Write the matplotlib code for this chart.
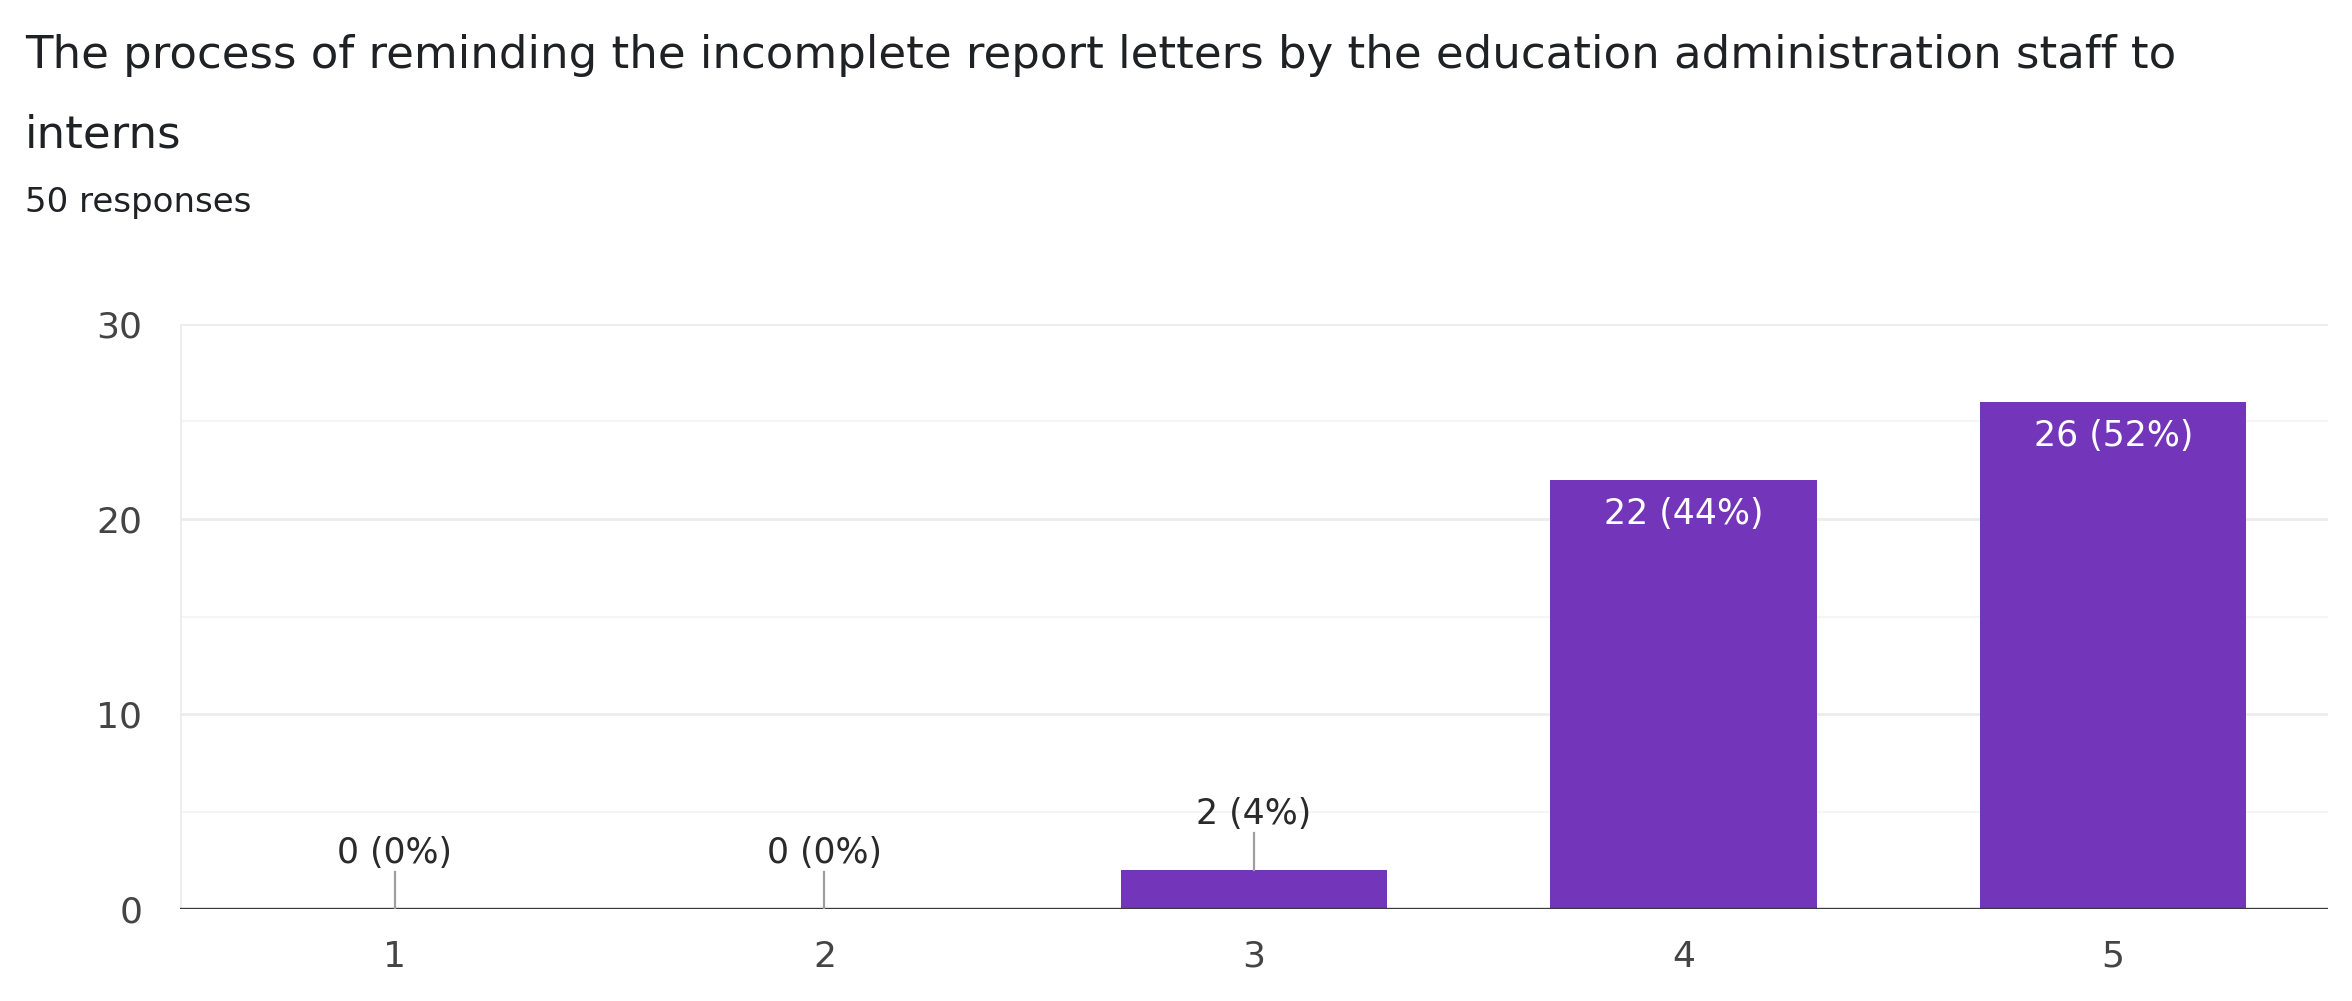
import matplotlib
matplotlib.use("Agg")
import matplotlib.pyplot as plt

categories = ["1", "2", "3", "4", "5"]
counts = [0, 0, 2, 22, 26]
total = 50
title_lines = ["The process of reminding the incomplete report letters by the education administration staff to",
               "interns"]
subtitle_text = "50 responses"
yticks = [0, 10, 20, 30]

plt.rcParams['font.family'] = ['DejaVu Sans']

W, H = 2352, 1001
fig = plt.figure(figsize=(W / 100, H / 100), dpi=100)
fig.patch.set_facecolor("white")

left, right = 180 / W, 2328 / W
bottom, top = 1 - 909 / H, 1 - 324 / H
ax = fig.add_axes([left, bottom, right - left, top - bottom])

bar_color = "#7335BA"
x = list(range(1, len(categories) + 1))
ax.set_xlim(0.5, len(categories) + 0.5)
ax.set_ylim(0, 30)

# grid
for g in [5, 15, 25]:
    ax.axhline(g, color="#f5f5f5", lw=1.5, zorder=0)
for g in [10, 20, 30]:
    ax.axhline(g, color="#ececec", lw=2, zorder=0)
ax.axvline(0.5, color="#ececec", lw=2, zorder=0)

ax.bar(x, counts, width=0.62, color=bar_color, zorder=2)
ax.axhline(0, color="#3a3a3a", lw=2.4, zorder=3)

for xi, c in zip(x, counts):
    pct = round(100 * c / total)
    label = f"{c} ({pct}%)"
    if c < 10:
        ax.plot([xi, xi], [c, c + 1.9], color="#9e9e9e", lw=1.6, zorder=3)
        ax.text(xi, c + 2.35, label, ha="center", va="baseline",
                fontsize=25, color="#2a2a2a", zorder=4)
    else:
        ax.text(xi, c - 1.75, label, ha="center", va="center",
                fontsize=25, color="white", zorder=4)

ax.set_xticks(x)
ax.set_xticklabels(categories)
ax.set_yticks(yticks)
ax.tick_params(axis="both", length=0, labelsize=26, labelcolor="#444444")
ax.tick_params(axis="x", pad=22)
ax.tick_params(axis="y", pad=27)
for s in ax.spines.values():
    s.set_visible(False)

fig.text(25 / W, 1 - 68 / H, title_lines[0], ha="left", va="baseline",
         fontsize=32.4, color="#202124")
fig.text(25 / W, 1 - 147 / H, title_lines[1], ha="left", va="baseline",
         fontsize=32.4, color="#202124")
fig.text(25 / W, 1 - 212 / H, subtitle_text, ha="left", va="baseline",
         fontsize=24.5, color="#202124")

fig.savefig("out.png", dpi=100, facecolor="white")
